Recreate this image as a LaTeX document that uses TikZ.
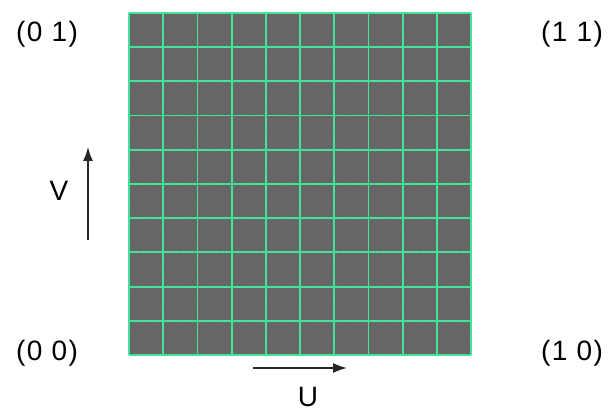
\documentclass[tikz,border=0pt]{standalone}
\usepackage{fontspec}
\setmainfont{Liberation Sans}[LetterSpace=5]
\usetikzlibrary{arrows.meta}

\definecolor{cellgray}{RGB}{100,100,100}
\definecolor{hatchgray}{RGB}{110,110,110}
\definecolor{gridgreen}{RGB}{64,228,150}

\begin{document}
\begin{tikzpicture}[
		x=1pt, y=-1pt,
		corner/.style={font=\fontsize{28}{30}\selectfont, inner sep=0pt},
		axislabel/.style={font=\fontsize{28}{30}\selectfont, inner sep=0pt},
		axis/.style={-{Latex[length=14pt, width=10pt]}, line width=1.4pt, black!85},
		gridline/.style={gridgreen, line width=1.8pt}
		]
		\useasboundingbox (0,0) rectangle (612,411);
		
		% UV square
		\fill[cellgray] (129,13) rectangle (471,355);
		\begin{scope}
			\clip (129,13) rectangle (471,355);
			\foreach \k in {0,...,140}{
				\draw[hatchgray, line width=0.6pt] (129+5*\k,13) -- (129+5*\k-342,355);
			}
		\end{scope}
		\foreach \i in {0,...,10}{
			\draw[gridline] (129+34.2*\i,13) -- (129+34.2*\i,355);
			\draw[gridline] (129,13+34.2*\i) -- (471,13+34.2*\i);
		}
		
		% Corner labels
		\node[corner] (c01) at (47,34) {(0 1)};
		\node[corner] (c11) at (572,34) {(1 1)};
		\node[corner] (c00) at (47,353) {(0 0)};
		\node[corner] (c10) at (572,353) {(1 0)};
		
		% Axes
		\coordinate (vfrom) at (88,240);
		\coordinate (vto) at (88,147);
		\coordinate (ufrom) at (253,368);
		\coordinate (uto) at (347,368);
		\draw[axis] (vfrom) -- (vto);
		\draw[axis] (ufrom) -- (uto);
		\node[axislabel] (vlabel) at (59,191) {V};
		\node[axislabel] (ulabel) at (308,397) {U};
		
	\end{tikzpicture}
\end{document}
